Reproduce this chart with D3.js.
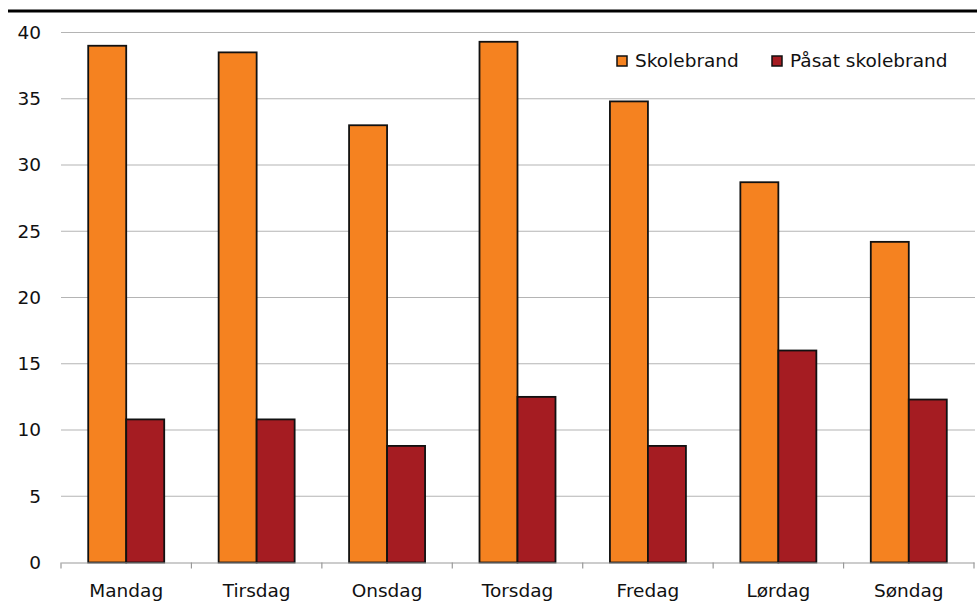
<!DOCTYPE html>
<html>
<head>
<meta charset="utf-8">
<script src="https://cdn.jsdelivr.net/npm/d3@7"></script>
<style>
  body { margin: 0; background: #fff; }
  text { font-family: "DejaVu Sans", Verdana, sans-serif; fill: #111; }
</style>
</head>
<body>
<div id="chart"></div>
<script>
var days = ['Mandag', 'Tirsdag', 'Onsdag', 'Torsdag', 'Fredag', 'Lørdag', 'Søndag'];
var skolebrand = [39, 38.5, 33, 39.3, 34.8, 28.7, 24.2];
var paasat = [10.8, 10.8, 8.8, 12.5, 8.8, 16, 12.3];
var seriesNames = ['Skolebrand', 'Påsat skolebrand'];
var colors = ['#f58220', '#a51c22'];
var yTicks = [0, 5, 10, 15, 20, 25, 30, 35, 40];

var W = 977, H = 608;
var margin = {top: 32.5, right: 2, bottom: 45.5, left: 61};
var width = W - margin.left - margin.right;
var height = H - margin.top - margin.bottom;

var svg = d3.select('#chart').append('svg')
	.attr('width', W)
	.attr('height', H);

// black rule across the top
svg.append('line')
	.attr('x1', 8).attr('x2', W)
	.attr('y1', 11).attr('y2', 11)
	.style('stroke', '#000')
	.style('stroke-width', 3);

var g = svg.append('g')
	.attr('transform', 'translate(' + margin.left + ',' + margin.top + ')');

var x = d3.scaleBand().domain(days).range([0, width - 1]);
var inner = d3.scaleBand().domain([0, 1]).range([0, 76]);
var y = d3.scaleLinear().domain([0, 40]).range([height, 0]);

// grid
g.selectAll('.grid')
	.data(yTicks.filter(function (d) { return d > 0; }))
	.enter()
	.append('line')
	.attr('x1', 0).attr('x2', width)
	.attr('y1', function (d) { return y(d); })
	.attr('y2', function (d) { return y(d); })
	.style('stroke', '#b4b4b4')
	.style('stroke-width', 1.2);

// y labels
g.selectAll('.ylab')
	.data(yTicks)
	.enter()
	.append('text')
	.attr('x', -20)
	.attr('y', function (d) { return y(d); })
	.attr('dy', '0.35em')
	.style('text-anchor', 'end')
	.style('font-size', '18.5px')
	.text(function (d) { return d; });

var data = days.map(function (d, i) {
	return {day: d, vals: [skolebrand[i], paasat[i]]};
});

var groups = g.selectAll('.day')
	.data(data)
	.enter()
	.append('g')
	.attr('transform', function (d) {
		return 'translate(' + (x(d.day) + x.bandwidth() / 2 - 38) + ',0)';
	});

groups.selectAll('rect')
	.data(function (d) { return d.vals; })
	.enter()
	.append('rect')
	.attr('x', function (d, i) { return inner(i); })
	.attr('width', inner.bandwidth())
	.attr('y', function (d) { return y(d); })
	.attr('height', function (d) { return height - y(d); })
	.style('fill', function (d, i) { return colors[i]; })
	.style('stroke', '#111')
	.style('stroke-width', 1.8);

// x axis
var xAxis = g.append('g')
	.attr('transform', 'translate(0,' + height + ')')
	.call(d3.axisBottom(x).tickSize(0).tickPadding(21));
xAxis.select('.domain').style('stroke', '#999').style('stroke-width', 1.2);
xAxis.selectAll('text')
	.style('font-size', '18.5px')
	.style('font-family', '"DejaVu Sans", Verdana, sans-serif')
	.attr('fill', '#111');

g.selectAll('.xtick')
	.data(d3.range(days.length + 1))
	.enter()
	.append('line')
	.attr('x1', function (i) { return i * x.step(); })
	.attr('x2', function (i) { return i * x.step(); })
	.attr('y1', height)
	.attr('y2', height + 6)
	.style('stroke', '#999')
	.style('stroke-width', 1.2);

// legend
var legendX = [617, 772];
var legend = svg.selectAll('.legend')
	.data(seriesNames)
	.enter()
	.append('g')
	.attr('transform', function (d, i) {
		return 'translate(' + legendX[i] + ',56)';
	});
legend.append('rect')
	.attr('width', 10).attr('height', 10)
	.style('fill', function (d, i) { return colors[i]; })
	.style('stroke', '#111')
	.style('stroke-width', 1.5);
legend.append('text')
	.attr('x', 18)
	.attr('y', 5)
	.attr('dy', '0.35em')
	.style('font-size', '18.5px')
	.text(function (d) { return d; });
</script>
</body>
</html>
